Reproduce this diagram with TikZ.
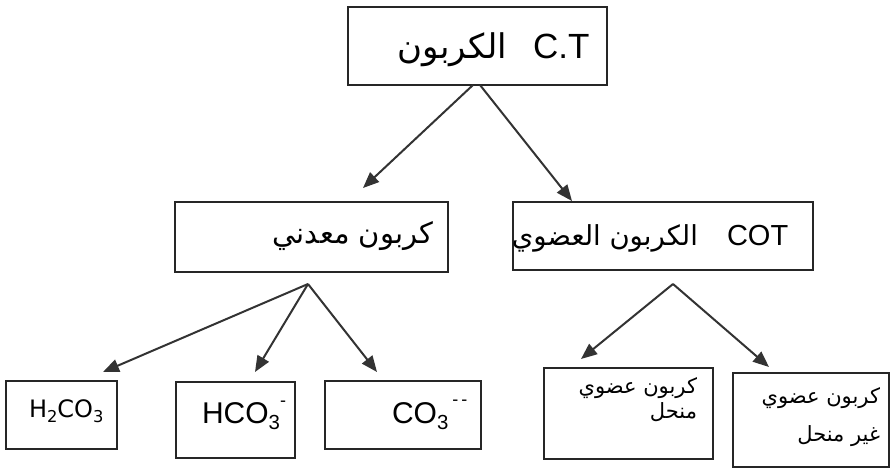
\documentclass[tikz,border=0pt]{standalone}
\usepackage{fontspec}
\setmainfont{Liberation Sans}
\newfontfamily\arabicfont[Script=Arabic]{DejaVu Sans}
\newfontfamily\dvs{DejaVu Sans}
\TeXXeTstate=1
\usetikzlibrary{arrows.meta}
\newcommand{\mysub}[1]{\raisebox{-0.22em}{\scalebox{0.68}{#1}}}
\begin{document}
\begin{tikzpicture}[x=1pt,y=-1pt,
  box/.style={draw=black!85,line width=1.6pt,inner sep=0pt},
  txt/.style={inner sep=0pt,outer sep=0pt},
  arr/.style={draw=black!80,line width=2pt,-{Triangle[length=16pt,width=13pt]}}]
\useasboundingbox (0,0) rectangle (891,469);
% boxes
\node[box,minimum width=259pt,minimum height=78pt] (top) at (477.5,46) {};
\node[box,minimum width=273pt,minimum height=70pt] (min) at (311.5,237) {};
\node[box,minimum width=300pt,minimum height=68pt] (org) at (663,236) {};
\node[box,minimum width=111pt,minimum height=68pt] (hh) at (61.5,415) {};
\node[box,minimum width=119pt,minimum height=76pt] (hco) at (235.5,420) {};
\node[box,minimum width=156pt,minimum height=68pt] (co) at (403,415) {};
\node[box,minimum width=169pt,minimum height=91pt] (dis) at (628.5,413.5) {};
\node[box,minimum width=156pt,minimum height=94pt] (ndis) at (811,420) {};
% texts
\node[txt,anchor=base east] (topar) at (507,58) {\fontsize{34}{38}\arabicfont\beginR الكربون\endR};
\node[txt,anchor=base west] (topct) at (533,58) {\fontsize{35}{40}\selectfont C.T};
\node[txt,anchor=base east] (minar) at (433,243) {\fontsize{29}{33}\arabicfont\beginR كربون معدني\endR};
\node[txt,anchor=base east] (orgar) at (698,245) {\fontsize{27.5}{31}\arabicfont\beginR الكربون العضوي\endR};
\node[txt,anchor=base west] (orgcot) at (727,245) {\fontsize{29}{34}\selectfont COT};
\node[txt,anchor=base west] (hhtx) at (29,417) {\fontsize{24}{27}\dvs H\mysub{2}CO\mysub{3}};
\node[txt,anchor=base west] (hcotx) at (202,423) {\fontsize{30}{34}\selectfont HCO\mysub{3}\raisebox{0.55em}{\scalebox{0.6}{-}}};
\node[txt,anchor=base west] (cotx) at (392,423) {\fontsize{30}{34}\selectfont CO\mysub{3}\hspace{4pt}\raisebox{0.6em}{\scalebox{0.6}{-\,-}}};
\node[txt,anchor=base east] (dis1) at (697,393) {\fontsize{21}{24}\arabicfont\beginR كربون عضوي\endR};
\node[txt,anchor=base east] (dis2) at (697,418) {\fontsize{21}{24}\arabicfont\beginR منحل\endR};
\node[txt,anchor=base east] (nd1) at (880,403) {\fontsize{21}{24}\arabicfont\beginR كربون عضوي\endR};
\node[txt,anchor=base east] (nd2) at (880,441) {\fontsize{21}{24}\arabicfont\beginR غير منحل\endR};
% connector points
\coordinate (tA) at (473,85);
\coordinate (tB) at (480,85);
\coordinate (tipMin) at (363,188);
\coordinate (tipOrg) at (572,201);
\coordinate (mA) at (308,284);
\coordinate (tipHH) at (103,372);
\coordinate (tipHCO) at (255,372);
\coordinate (tipCO) at (377,372);
\coordinate (oA) at (673,284);
\coordinate (tipDis) at (581,359);
\coordinate (tipND) at (769,367);
\draw[arr] (tA) -- (tipMin);
\draw[arr] (tB) -- (tipOrg);
\draw[arr] (mA) -- (tipHH);
\draw[arr] (mA) -- (tipHCO);
\draw[arr] (mA) -- (tipCO);
\draw[arr] (oA) -- (tipDis);
\draw[arr] (oA) -- (tipND);
\end{tikzpicture}
\end{document}
